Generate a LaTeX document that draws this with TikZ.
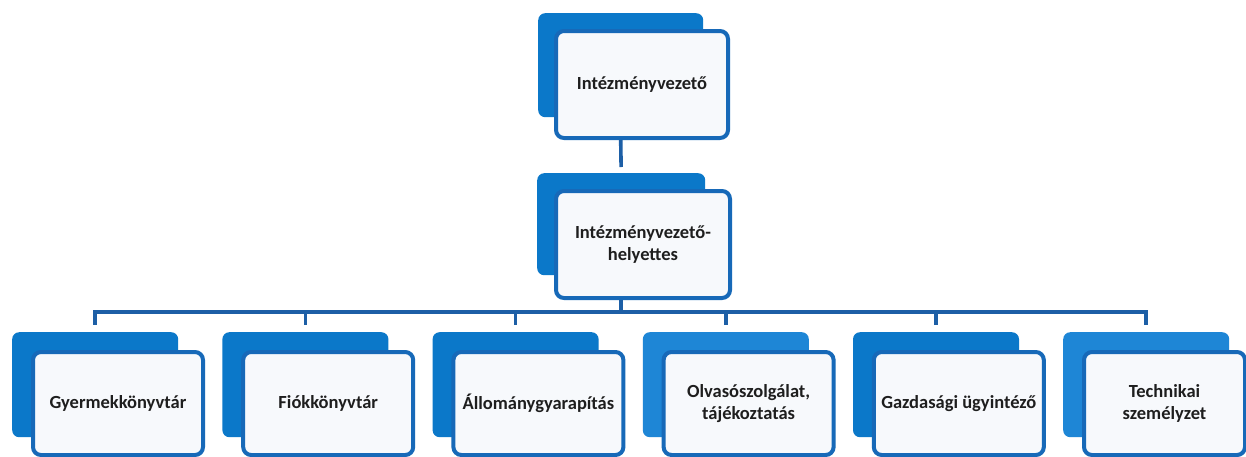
\documentclass[tikz,border=0pt]{standalone}
\usepackage{fontspec}
\setmainfont{Carlito}
\definecolor{backblue}{HTML}{0B78C9}
\definecolor{backlight}{HTML}{1E86D6}
\definecolor{frameblue}{HTML}{1769B8}
\definecolor{frontfill}{HTML}{F7F9FC}
\definecolor{lineblue}{HTML}{1D5FA6}
\definecolor{textgray}{HTML}{1E1E1E}
\begin{document}
\begin{tikzpicture}[x=1pt,y=-1pt,
  back/.style={fill=backblue, draw=none, rounded corners=7pt, minimum width=166pt, minimum height=105pt, inner sep=0pt, anchor=north west},
  front/.style={fill=frontfill, draw=frameblue, line width=4pt, rounded corners=8pt, minimum width=170pt, minimum height=103pt, inner sep=0pt, anchor=north west, align=center, font=\bfseries\fontsize{18.5}{22}\selectfont, text=textgray},
  conn/.style={draw=lineblue, line width=3.6pt}]
\useasboundingbox (0,0) rectangle (1246,456);
\fill[white] (0,0) rectangle (1246,456);
% top level
\node[back, minimum width=165pt, minimum height=104pt] (t1b) at (538,13) {};
\node[front, minimum width=172pt, minimum height=107pt] (t1) at (554,29) {Intézményvezető};
\node[back, minimum width=168pt, minimum height=102pt] (t2b) at (537,173) {};
\node[front, minimum width=174pt, minimum height=107pt] (t2) at (554,189) {Intézményvezető-\\helyettes};
% bottom row
\node[back] (b1b) at (12,332) {};
\node[back] (b2b) at (222.2,332) {};
\node[back] (b3b) at (432.4,332) {};
\node[back, fill=backlight] (b4b) at (642.6,332) {};
\node[back] (b5b) at (852.8,332) {};
\node[back, fill=backlight] (b6b) at (1063,332) {};
\node[front] (b1) at (31,350) {Gyermekkönyvtár};
\node[front] (b2) at (241.2,350) {Fiókkönyvtár};
\node[front] (b3) at (451.4,350) {Állománygyarapítás};
\node[front] (b4) at (661.6,350) {Olvasószolgálat,\\tájékoztatás};
\node[front] (b5) at (871.8,350) {Gazdasági ügyintéző};
\node[front, minimum width=161pt] (b6) at (1082,350) {Technikai\\személyzet};
% connectors
\coordinate (bus) at (620,312);
\draw[conn, shorten >=6pt] (t1.south -| t1b.center) -- (t2b.north);
\draw[conn] (t2.south -| t2b.center) -- (t2b.center |- bus);
\draw[conn, line cap=rect] (b1b.north |- bus) -- (b6b.north |- bus);
\foreach \b in {b1b,b2b,b3b,b4b,b5b,b6b}{
  \draw[conn, shorten >=7pt] (\b.north |- bus) -- (\b.north);
}
\end{tikzpicture}
\end{document}
